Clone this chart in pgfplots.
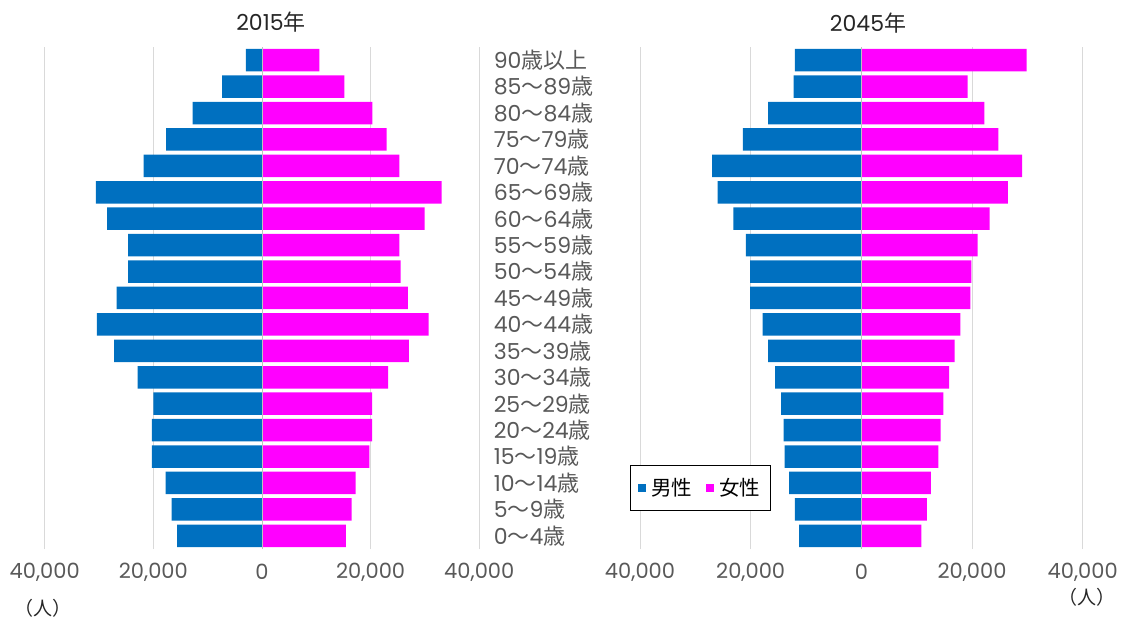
\documentclass[border=0pt]{standalone}
\usepackage{fontspec}
\setmainfont{Poppins}
\newfontfamily\jp{Noto Sans CJK JP}
\usepackage{pgfplots}
\usepackage{pgfplotstable}
\pgfplotsset{compat=1.18}

\definecolor{maleBlue}{RGB}{0,112,192}
\definecolor{femaleMag}{RGB}{255,0,255}
\definecolor{tickGray}{RGB}{89,89,89}
\definecolor{gridGray}{RGB}{217,217,217}
\definecolor{zeroGray}{RGB}{191,191,191}

% y: 0 = 0~4, ..., 18 = 90+
\pgfplotstableread{
y male female
0  -15630 15420
1  -16650 16510
2  -17740 17230
3  -20290 19780
4  -20290 20290
5  -20000 20290
6  -22900 23200
7  -27200 27050
8  -30400 30690
9  -26740 26860
10 -24650 25520
11 -24650 25280
12 -28520 29940
13 -30600 33060
14 -21770 25280
15 -17660 22940
16 -12750 20310
17 -7360  15160
18 -2950  10560
}\popA

\pgfplotstableread{
y male female
0  -11260 10830
1  -12000 11820
2  -13050 12550
3  -13850 13910
4  -14030 14340
5  -14520 14830
6  -15570 15880
7  -16860 16860
8  -17850 17910
9  -20120 19690
10 -20120 19880
11 -20860 20990
12 -23140 23200
13 -25970 26460
14 -26950 29050
15 -21420 24740
16 -16860 22220
17 -12250 19200
18 -12000 29850
}\popB

\pgfplotsset{pyr/.style={
  scale only axis, height=502pt,
  xbar, bar shift=0pt, bar width=22.5pt,
  xmin=-40000, xmax=40000, ymin=-0.5, ymax=18.5,
  axis line style={draw=none},
  scaled x ticks=false,
  xtick={-40000,-20000,0,20000,40000},
  xticklabels={{40,000},{20,000},0,{20,000},{40,000}},
  xmajorgrids, grid style={gridGray, line width=0.8pt},
  major tick length=0pt,
  ticklabel style={font=\fontsize{21}{21}\selectfont, text=tickGray},
  xticklabel style={anchor=center, yshift=-23pt},
}}

\begin{document}
\begin{tikzpicture}
\path[use as bounding box] (0pt,0pt) rectangle (1135pt,619pt);

\begin{axis}[pyr, at={(44.7pt,70pt)}, anchor=south west, width=434.6pt,
  ytick={0,...,18},
  yticklabels={0{\jp 〜}4{\jp 歳},5{\jp 〜}9{\jp 歳},10{\jp 〜}14{\jp 歳},15{\jp 〜}19{\jp 歳},
    20{\jp 〜}24{\jp 歳},25{\jp 〜}29{\jp 歳},30{\jp 〜}34{\jp 歳},35{\jp 〜}39{\jp 歳},
    40{\jp 〜}44{\jp 歳},45{\jp 〜}49{\jp 歳},50{\jp 〜}54{\jp 歳},55{\jp 〜}59{\jp 歳},
    60{\jp 〜}64{\jp 歳},65{\jp 〜}69{\jp 歳},70{\jp 〜}74{\jp 歳},75{\jp 〜}79{\jp 歳},
    80{\jp 〜}84{\jp 歳},85{\jp 〜}89{\jp 歳},90{\jp 歳以上}},
  yticklabel pos=right,
  yticklabel style={anchor=west, xshift=11pt, font=\fontsize{22}{22}\selectfont},
]
\addplot[fill=maleBlue, draw=none] table[x=male, y=y] {\popA};
\addplot[fill=femaleMag, draw=none] table[x=female, y=y] {\popA};
\draw[zeroGray, line width=0.8pt] (axis cs:0,-0.5) -- (axis cs:0,18.5);
\end{axis}

\begin{axis}[pyr, at={(640pt,70pt)}, anchor=south west, width=442.7pt,
  ytick=\empty,
  legend style={at={(-0.0226,0.167)}, anchor=north west, draw=black,
    line width=0.9pt, font=\jp\fontsize{20.5}{20.5}\selectfont,
    inner xsep=8pt, inner ysep=11pt},
  legend columns=2,
  legend image code/.code={\fill[#1] (0pt,-4pt) rectangle (8pt,4pt);},
  /tikz/every odd column/.append style={column sep=3pt},
  /tikz/every even column/.append style={column sep=12pt},
]
\addplot[fill=maleBlue, draw=none] table[x=male, y=y] {\popB};
\addplot[fill=femaleMag, draw=none] table[x=female, y=y] {\popB};
\draw[zeroGray, line width=0.8pt] (axis cs:0,-0.5) -- (axis cs:0,18.5);
\legend{男性,女性}
\end{axis}

\node[font=\fontsize{22}{22}\selectfont, text=black!85] at (271pt,597pt) {2015{\jp 年}};
\node[font=\fontsize{22}{22}\selectfont, text=black!85] at (868pt,596pt) {2045{\jp 年}};
\node[font=\jp\fontsize{19}{19}\selectfont, text=black!85] at (43pt,11pt) {（人）};
\node[font=\jp\fontsize{19}{19}\selectfont, text=black!85] at (1087pt,22pt) {（人）};
\end{tikzpicture}
\end{document}
